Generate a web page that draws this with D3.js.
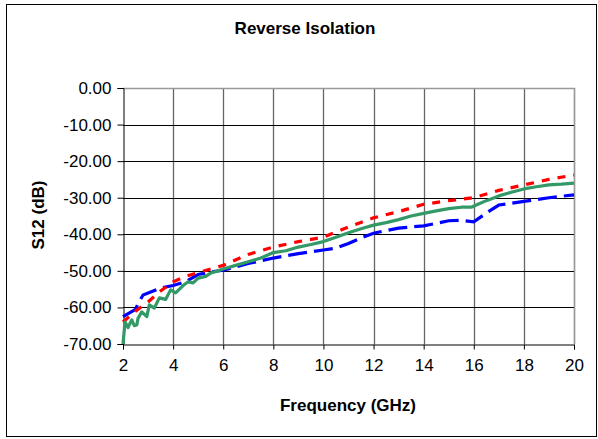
<!DOCTYPE html>
<html><head><meta charset="utf-8">
<script src="https://cdn.jsdelivr.net/npm/d3@7"></script>
<style>body{margin:0;background:#fff}svg{display:block;font-family:"Liberation Sans",Arial,sans-serif}</style>
</head><body><svg id="c" width="598" height="439"></svg>
<script>
const xTicks = [2,4,6,8,10,12,14,16,18,20];
const yTicks = [0,-10,-20,-30,-40,-50,-60,-70];

const redFreq = [2,2.5,3,3.5,4,4.5,5,5.5,6,7,8,9,10,11,12,13,14,15,16,17,18,19,20];
const redDb   = [-64,-61,-58.5,-55.5,-53,-51.5,-50.5,-49.5,-48.5,-45.5,-43.5,-42,-40.8,-38,-35.5,-33.8,-31.8,-30.8,-30,-28,-26.5,-25,-23.8];

const blueFreq = [2,2.5,2.6,2.8,3.5,4,4.5,5,5.5,6,7,8,9,10,10.5,11,11.5,12,13,14,15,15.5,16,16.5,17,18,19,20];
const blueDb   = [-62.5,-60.5,-59,-56.6,-54.7,-54,-53,-51,-50.3,-49.8,-48,-46.5,-45.3,-44.3,-43.8,-42.5,-41,-39.7,-38.3,-37.7,-36.3,-36.2,-36.6,-34.2,-32,-31,-30,-29.2];

const greenFreq = [2,2.08,2.2,2.35,2.45,2.55,2.6,2.75,2.95,3.05,3.25,3.45,3.7,3.9,4.1,4.4,4.6,4.8,5,5.3,5.5,5.8,6,6.5,7,7.5,8,8.5,9,9.5,10,10.5,11,11.5,12,12.5,13,13.5,14,14.5,15,15.5,15.9,16.1,16.5,17,17.5,18,18.5,19,19.5,20];
const greenDb   = [-70,-64,-65.5,-63.4,-65,-64.8,-63,-61.2,-62.5,-59.3,-60.2,-57.4,-57.8,-55.2,-56,-54,-53,-53.3,-52,-51.5,-50.6,-50,-49.5,-48.5,-47.5,-46.5,-45,-44.5,-43.5,-42.8,-42,-40.8,-39.6,-38.5,-37.5,-36.8,-36,-35,-34.3,-33.6,-33,-32.6,-32.6,-32,-30.8,-29.5,-28.5,-27.6,-27,-26.5,-26.3,-26];

const svg = d3.select("#c");
const L=123, R=574, T=88, B=344;
const FS = 17;
const x = d3.scaleLinear().domain([2,20]).range([L,R]);
const y = d3.scaleLinear().domain([-70,0]).range([B,T]);

svg.append("rect").attr("x",6.5).attr("y",4.5).attr("width",590).attr("height",432)
  .attr("fill","#fff").attr("stroke","#000").attr("stroke-width",1);

// vertical gridlines
svg.append("g").selectAll("line").data(xTicks.slice(1)).join("line")
  .attr("x1",d=>Math.round(x(d))+0.5).attr("x2",d=>Math.round(x(d))+0.5)
  .attr("y1",T).attr("y2",B).attr("stroke","#666").attr("stroke-width",1.3);
// horizontal gridlines
svg.append("g").selectAll("line").data(yTicks.slice(1,-1)).join("line")
  .attr("x1",L).attr("x2",R).attr("y1",d=>Math.round(y(d))+0.5).attr("y2",d=>Math.round(y(d))+0.5)
  .attr("stroke","#000").attr("stroke-width",1);
// top & right border (gray)
svg.append("path").attr("d",`M${L},${T+0.5}H${R+0.5}V${B}`).attr("fill","none").attr("stroke","#999").attr("stroke-width",1.3);

// axes
const yAxis = d3.axisLeft(y).tickValues(yTicks).tickSize(6).tickFormat(d=>d.toFixed(2));
const gy = svg.append("g").attr("transform",`translate(${L+0.5},0)`).call(yAxis);
gy.selectAll("text").attr("font-size",FS).attr("fill","#000").attr("x",-12).attr("font-family","Liberation Sans, Arial, sans-serif");
gy.select(".domain").attr("stroke","#000");
gy.selectAll(".tick line").attr("stroke","#000");

const xAxis = d3.axisBottom(x).tickValues(xTicks).tickSize(5).tickFormat(d3.format("d"));
const gx = svg.append("g").attr("transform",`translate(0,${B+0.5})`).call(xAxis);
gx.selectAll("text").attr("font-size",FS).attr("fill","#000").attr("y",14).attr("font-family","Liberation Sans, Arial, sans-serif");
gx.select(".domain").attr("stroke","#000");
gx.selectAll(".tick line").attr("stroke","#000");

const line = d3.line().x(d=>x(d[0])).y(d=>y(d[1]));
const plot = svg.append("g");
plot.append("path").datum(d3.zip(blueFreq,blueDb)).attr("d",line)
  .attr("fill","none").attr("stroke","#0000ff").attr("stroke-width",3.2).attr("stroke-dasharray","19,7");
plot.append("path").datum(d3.zip(redFreq,redDb)).attr("d",line)
  .attr("fill","none").attr("stroke","#ff0000").attr("stroke-width",3.2).attr("stroke-dasharray","8,8");
plot.append("path").datum(d3.zip(greenFreq,greenDb)).attr("d",line)
  .attr("fill","none").attr("stroke","#339966").attr("stroke-width",3.2).attr("stroke-linejoin","round");

svg.append("text").attr("x",305).attr("y",34).attr("text-anchor","middle")
  .attr("font-size",FS).attr("font-weight","bold").text("Reverse Isolation");
svg.append("text").attr("x",348).attr("y",411).attr("text-anchor","middle")
  .attr("font-size",FS).attr("font-weight","bold").text("Frequency (GHz)");
svg.append("text").attr("transform","translate(44,215) rotate(-90)").attr("text-anchor","middle")
  .attr("font-size",FS).attr("font-weight","bold").text("S12 (dB)");
</script></body></html>
